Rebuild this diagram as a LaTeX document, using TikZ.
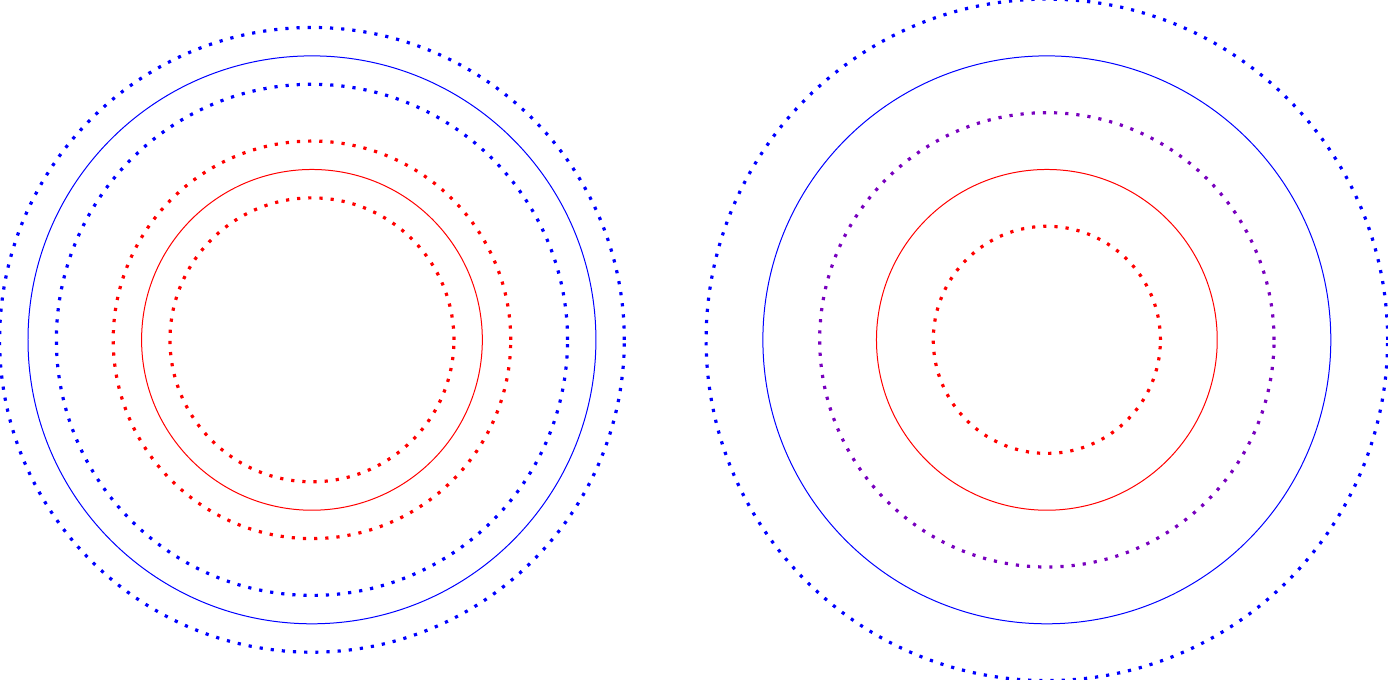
\documentclass[tikz,border=0pt]{standalone}
\definecolor{pblue}{RGB}{0,0,255}
\definecolor{pred}{RGB}{255,0,0}
\definecolor{ppurple}{RGB}{120,0,190}
\begin{document}
\begin{tikzpicture}[
  dotring/.style={line width=1.6pt, dash pattern=on 1.6pt off 4pt},
  solidring/.style={line width=0.5pt}
]
\useasboundingbox (0,0) rectangle (24.44,11.97);
\coordinate (L) at (5.493,5.986);
\coordinate (R) at (18.433,5.986);
% left group
\draw[dotring, pblue] (L) circle (5.5);
\draw[solidring, pblue] (L) circle (5);
\draw[dotring, pblue] (L) circle (4.5);
\draw[dotring, pred] (L) circle (3.5);
\draw[solidring, pred] (L) circle (3);
\draw[dotring, pred] (L) circle (2.5);
% right group
\draw[dotring, pblue] (R) circle (6);
\draw[solidring, pblue] (R) circle (5);
\draw[dotring, ppurple] (R) circle (4);
\draw[solidring, pred] (R) circle (3);
\draw[dotring, pred] (R) circle (2);
\end{tikzpicture}
\end{document}
